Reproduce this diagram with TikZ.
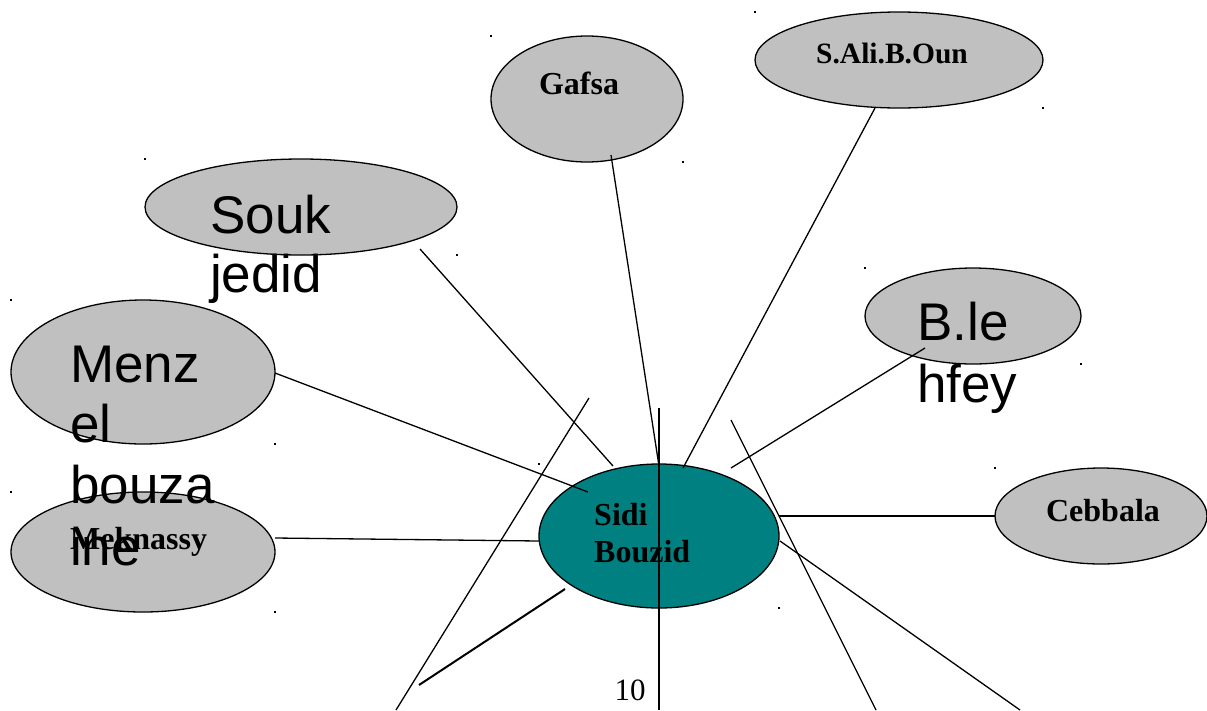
\documentclass[tikz,border=0pt]{standalone}
\usepackage{fontspec}
\setmainfont{Liberation Serif}
\newfontfamily\labelsans{Liberation Sans}
\usetikzlibrary{shapes.geometric}
\definecolor{townfill}{RGB}{192,192,192}
\definecolor{hubfill}{RGB}{0,128,128}

\begin{document}
\begin{tikzpicture}[x=1pt,y=-1pt,
  town/.style={ellipse, draw=black, line width=1.3pt, fill=townfill, inner sep=0pt},
  hub/.style={ellipse, draw=black, line width=1.3pt, fill=hubfill, inner sep=0pt},
  boldlbl/.style={inner sep=0pt, font=\fontsize{32}{38}\selectfont\bfseries},
  sanslbl/.style={inner sep=0pt, anchor=base west, font=\labelsans\fontsize{53}{60}\selectfont},
  link/.style={line width=1.3pt},
  cornerdot/.style={fill=black, minimum size=2pt, inner sep=0pt, shape=rectangle}
]
\useasboundingbox (0,0) rectangle (1207,710);

% towns
\node[town, minimum width=192pt, minimum height=126pt] (gafsa) at (587,99) {};
\node[town, minimum width=288pt, minimum height=96pt]  (sali)  at (899,60) {};
\node[town, minimum width=312pt, minimum height=96pt]  (souk)  at (301,207) {};
\node[town, minimum width=264pt, minimum height=144pt] (menz)  at (143,372) {};
\node[town, minimum width=264pt, minimum height=120pt] (mekn)  at (143,552) {};
\node[town, minimum width=216pt, minimum height=96pt]  (blef)  at (973,316) {};
\node[town, minimum width=212pt, minimum height=96pt]  (cebb)  at (1101,516) {};
\node[hub,  minimum width=240pt, minimum height=144pt] (sidi)  at (659,536) {};

% corner marks
\foreach \p [count=\i] in {(491,36),(683,162),(755,12),(1043,108),(145,159),(457,255),
  (11,300),(275,444),(11,492),(275,612),(865,268),(1081,364),(995,468),(539,464),(779,608)}
  \node[cornerdot] (m\i) at \p {};

% connector end points
\coordinate (gafsaEnd) at (611,155);
\coordinate (gafsaHub) at (659,466);
\coordinate (saliEnd)  at (875,108);
\coordinate (saliHub)  at (683,468);
\coordinate (soukEnd)  at (420,249);
\coordinate (soukHub)  at (613,466);
\coordinate (menzEnd)  at (275,373);
\coordinate (menzHub)  at (588,492);
\coordinate (meknEnd)  at (275,538);
\coordinate (meknHub)  at (539,541);
\coordinate (blefEnd)  at (925,348);
\coordinate (blefHub)  at (731,468);
\coordinate (cebbEnd)  at (995,516);
\coordinate (cebbHub)  at (779,516);
\coordinate (seA) at (780,541);
\coordinate (seB) at (1020,710);
\coordinate (sA)  at (731,420);
\coordinate (sB)  at (876,710);
\coordinate (vA)  at (659,408);
\coordinate (vB)  at (659,710);
\coordinate (swA) at (589,398);
\coordinate (swB) at (396,710);
\coordinate (tA)  at (565,589);
\coordinate (tB)  at (419,685);

\draw[link] (gafsaEnd) -- (gafsaHub);
\draw[link] (saliEnd) -- (saliHub);
\draw[link] (soukEnd) -- (soukHub);
\draw[link] (menzEnd) -- (menzHub);
\draw[link] (meknEnd) -- (meknHub);
\draw[link] (blefEnd) -- (blefHub);
\draw[link] (cebbEnd) -- (cebbHub);
\draw[link] (seA) -- (seB);
\draw[link] (sA) -- (sB);
\draw[link] (vA) -- (vB);
\draw[link] (swA) -- (swB);
\draw[line width=2pt] (tA) -- (tB);

% labels
\node[boldlbl, anchor=base] (tGafsa) at (579,94) {Gafsa};
\node[boldlbl, anchor=base, font=\fontsize{29.5}{36}\selectfont\bfseries] (tSali) at (892,63) {S.Ali.B.Oun};
\node[boldlbl, anchor=base] (tCebb) at (1103,521) {Cebbala};
\node[boldlbl, anchor=base west] (tSidi) at (594,525) {Sidi};
\node[boldlbl, anchor=base west] (tBouzid) at (594,562) {Bouzid};
\node[boldlbl, anchor=base west] (tMekn) at (70,549) {Meknassy};

\node[sanslbl] (tSouk) at (210,233) {Souk};
\node[sanslbl] (tJedid) at (210,292) {jedid};
\node[sanslbl] (tMenz) at (70,382) {Menz};
\node[sanslbl] (tEl) at (70,442) {el};
\node[sanslbl] (tBouza) at (70,503) {bouza};
\node[sanslbl] (tIne) at (70,565) {ine};
\node[sanslbl] (tBle) at (917,340) {B.le};
\node[sanslbl] (tHfey) at (917,402) {hfey};

\node[inner sep=0pt, anchor=base, font=\fontsize{31}{36}\selectfont] (tPage) at (630,700) {10};
\end{tikzpicture}
\end{document}
